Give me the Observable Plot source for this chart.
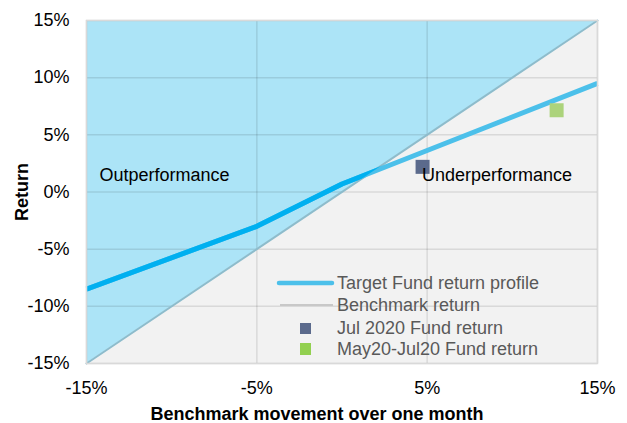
<!DOCTYPE html>
<html><head><meta charset="utf-8">
<script src="https://cdn.jsdelivr.net/npm/d3@7"></script>
<script src="https://cdn.jsdelivr.net/npm/@observablehq/plot@0.6"></script>
<style>
html,body{margin:0;padding:0;background:#fff;}
#wrap{position:relative;width:627px;height:423px;font-family:"Liberation Sans",Arial,sans-serif;overflow:hidden;}
#wrap svg{position:absolute;left:0;top:0;}
.ttl{position:absolute;font-weight:bold;font-size:18px;line-height:18px;color:#000;white-space:nowrap;}
.leg{position:absolute;font-size:18px;line-height:18px;color:#595959;white-space:nowrap;}
</style></head><body>
<div id="wrap"></div>
<script>
// ---- data ----
const xTicks = [-15, -5, 5, 15];
const yTicks = [-15, -10, -5, 0, 5, 10, 15];
const benchmarkX = [-15, 15];
const benchmarkY = [-15, 15];
const profileX = [-15, -5, 0, 15];
const profileY = [-8.5, -3, 0.7, 9.5];
const fundLabels = ["Jul 2020 Fund return", "May20-Jul20 Fund return"];
const fundX = [4.73, 12.6];
const fundY = [2.2, 7.15];
const fundColors = ["#5b6a8c", "#acd37b"];
const zoneText = ["Outperformance", "Underperformance"];
const zoneX = [-14.24, 4.7];
const zoneY = [1.44, 1.44];
const legendLabels = ["Target Fund return profile", "Benchmark return", "Jul 2020 Fund return", "May20-Jul20 Fund return"];
const xTitle = "Benchmark movement over one month";
const yTitle = "Return";

// ---- build tables ----
const yDomain = [yTicks[0], yTicks[yTicks.length - 1]];
const bench = benchmarkX.map((x, i) => ({x, y: benchmarkY[i], top: yDomain[1]}));
const profile = profileX.map((x, i) => ({x, y: profileY[i]}));
const funds = fundX.map((x, i) => ({x, y: fundY[i], c: fundColors[i], name: fundLabels[i]}));
const zones = zoneText.map((t, i) => ({x: zoneX[i], y: zoneY[i], t}));
const fmt = d => d + "%";

const svg = Plot.plot({
  width: 627, height: 423,
  marginLeft: 86, marginRight: 30, marginTop: 20, marginBottom: 60,
  style: {fontFamily: "'Liberation Sans', Arial, sans-serif", fontSize: "18px", color: "#000", background: "transparent"},
  x: {domain: [xTicks[0], xTicks[xTicks.length - 1]], label: null},
  y: {domain: yDomain, label: null},
  marks: [
    Plot.frame({fill: "#f2f2f2", stroke: null}),
    Plot.areaY(bench, {x: "x", y1: "y", y2: "top", fill: "#ace4f7", className: "outperfarea"}),
    Plot.gridX(xTicks, {stroke: "#000", strokeOpacity: 0.1, strokeWidth: 1.5}),
    Plot.gridY(yTicks, {stroke: "#000", strokeOpacity: 0.1, strokeWidth: 1.5}),
    Plot.line(bench, {x: "x", y: "y", stroke: "#8dbccc", strokeWidth: 2}),
    Plot.line(profile, {x: "x", y: "y", stroke: "#4cc0ea", strokeWidth: 5, strokeLinejoin: "round", strokeLinecap: "butt"}),
    Plot.line(profile, {x: "x", y: "y", stroke: "#00b0f0", strokeWidth: 5, strokeLinejoin: "round", strokeLinecap: "butt", className: "profilebright"}),
    Plot.dot(funds, {x: "x", y: "y", fill: "c", symbol: "square", r: 7.9}),
    Plot.text(zones, {x: "x", y: "y", text: "t", textAnchor: "start", fill: "#000", fontSize: 18}),
    Plot.frame({stroke: "#d9d9d9", strokeWidth: 1.5}),
    Plot.axisX(xTicks, {tickSize: 0, tickPadding: 18, tickFormat: fmt, label: null}),
    Plot.axisY(yTicks, {tickSize: 0, tickPadding: 17, tickFormat: fmt, label: null})
  ]
});

// clip the bright part of the profile line to the outperformance area
const ns = "http://www.w3.org/2000/svg";
const areaPath = svg.querySelector("g.outperfarea path");
const bright = svg.querySelector("g.profilebright");
if (areaPath && bright) {
  const defs = document.createElementNS(ns, "defs");
  const cp = document.createElementNS(ns, "clipPath");
  cp.setAttribute("id", "outperfClip");
  const p = document.createElementNS(ns, "path");
  p.setAttribute("d", areaPath.getAttribute("d"));
  const t = areaPath.parentNode.getAttribute("transform");
  if (t) p.setAttribute("transform", t);
  cp.appendChild(p);
  defs.appendChild(cp);
  svg.insertBefore(defs, svg.firstChild);
  bright.setAttribute("clip-path", "url(#outperfClip)");
}

const wrap = document.getElementById("wrap");
wrap.appendChild(svg);

// legend swatches
const lg = d3.select(wrap).append("svg").attr("width", 627).attr("height", 423).style("pointer-events", "none");
lg.append("line").attr("x1", 279).attr("x2", 332).attr("y1", 283).attr("y2", 283)
  .attr("stroke", "#4cc0ea").attr("stroke-width", 4.5).attr("stroke-linecap", "round");
lg.append("line").attr("x1", 280).attr("x2", 333).attr("y1", 305).attr("y2", 305)
  .attr("stroke", "#c8c8c8").attr("stroke-width", 2);
lg.append("rect").attr("x", 300).attr("y", 323).attr("width", 11).attr("height", 11).attr("fill", "#5b6a8c");
lg.append("rect").attr("x", 300).attr("y", 343).attr("width", 11).attr("height", 12).attr("fill", "#92d050");
const legTops = [274, 296, 319, 340];
legendLabels.forEach((s, i) => {
  const d = document.createElement("div");
  d.className = "leg";
  d.style.left = "337px";
  d.style.top = legTops[i] + "px";
  d.textContent = s;
  wrap.appendChild(d);
});

// axis titles
const xt = document.createElement("div");
xt.className = "ttl";
xt.textContent = xTitle;
xt.style.left = "317px"; xt.style.top = "405px"; xt.style.transform = "translateX(-50%)";
wrap.appendChild(xt);
const yt = document.createElement("div");
yt.className = "ttl";
yt.textContent = yTitle;
yt.style.left = "22px"; yt.style.top = "192px"; yt.style.transform = "translate(-50%,-50%) rotate(-90deg)";
wrap.appendChild(yt);
</script>
</body></html>
